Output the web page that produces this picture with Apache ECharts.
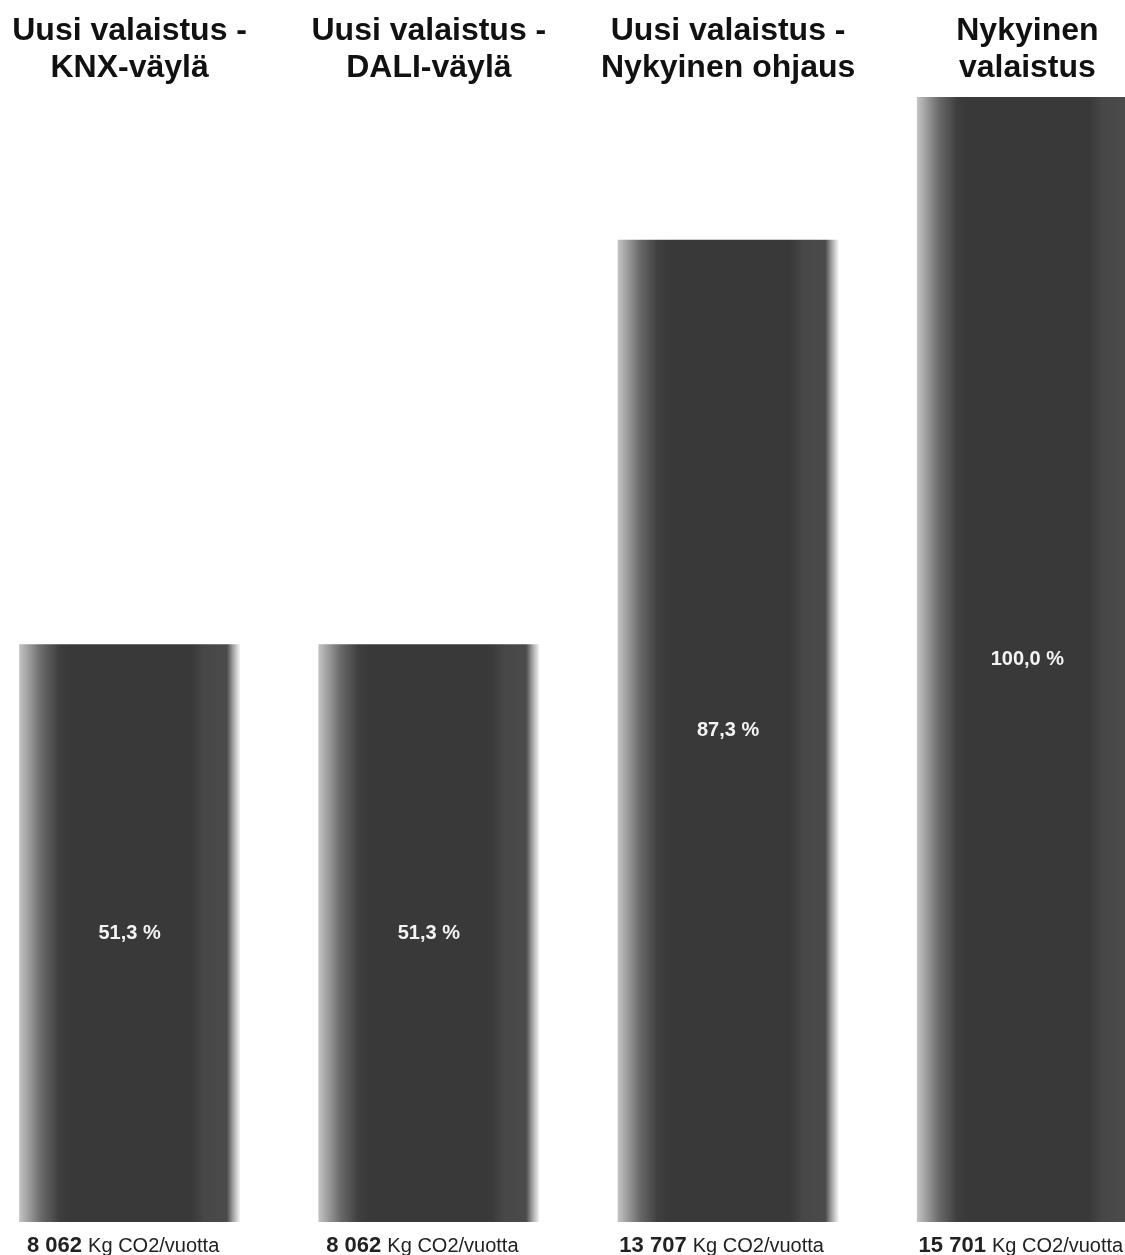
<!DOCTYPE html>
<html>
<head>
<meta charset="utf-8">
<script src="https://cdn.jsdelivr.net/npm/echarts@6/dist/echarts.min.js"></script>
<style>
html,body{margin:0;padding:0;background:#fff;}
#chart{width:1125px;height:1255px;}
</style>
</head>
<body>
<div id="chart"></div>
<script>
const categories = ['Uusi valaistus -\nKNX-väylä', 'Uusi valaistus -\nDALI-väylä', 'Uusi valaistus -\nNykyinen ohjaus', 'Nykyinen\nvalaistus'];
const values = [8062, 8062, 13707, 15701];
const percentLabels = ['51,3 %', '51,3 %', '87,3 %', '100,0 %'];
const valueLabels = ['8 062', '8 062', '13 707', '15 701'];
const unitLabel = 'Kg CO2/vuotta';

const font = '"Liberation Sans", Arial, sans-serif';
const barGradient = new echarts.graphic.LinearGradient(0, 0, 1, 0, [
  {offset: 0, color: '#c4c4c4'},
  {offset: 0.04, color: '#a0a0a0'},
  {offset: 0.10, color: '#6a6a6a'},
  {offset: 0.18, color: '#3f3f3f'},
  {offset: 0.23, color: '#393939'},
  {offset: 0.78, color: '#393939'},
  {offset: 0.84, color: '#474747'},
  {offset: 0.94, color: '#4b4b4b'},
  {offset: 0.97, color: '#a8a8a8'},
  {offset: 1, color: '#f6f6f6'}
]);

const chart = echarts.init(document.getElementById('chart'), null, {renderer: 'canvas'});
chart.setOption({
  backgroundColor: '#ffffff',
  animation: false,
  grid: {left: -20, right: -52, top: 97, bottom: 33, containLabel: false, outerBoundsMode: 'none'},
  xAxis: [{
    type: 'category',
    data: categories,
    position: 'bottom',
    axisLine: {show: false},
    axisTick: {show: false},
    axisLabel: {
      margin: 13,
      interval: 0,
      padding: [0, 13, 0, 0],
      formatter: function (v, i) {
        return '{b|' + valueLabels[i] + ' }{r|' + unitLabel + '}';
      },
      rich: {
        b: {fontFamily: font, fontWeight: 'bold', fontSize: 22, color: '#222'},
        r: {fontFamily: font, fontSize: 20, color: '#222'}
      }
    }
  }, {
    type: 'category',
    data: categories,
    position: 'top',
    axisLine: {show: false},
    axisTick: {show: false},
    axisLabel: {
      margin: 10,
      interval: 0,
      fontFamily: font,
      fontWeight: 'bold',
      fontSize: 32,
      lineHeight: 37,
      color: '#111'
    }
  }],
  yAxis: {
    type: 'value',
    min: 0,
    max: 15701,
    show: false,
    splitLine: {show: false}
  },
  series: [{
    type: 'bar',
    xAxisIndex: 0,
    data: values,
    barWidth: 221,
    itemStyle: {color: barGradient},
    label: {
      show: true,
      position: 'inside',
      formatter: function (p) { return percentLabels[p.dataIndex]; },
      fontFamily: font,
      fontWeight: 'bold',
      fontSize: 20,
      color: '#f4f4f4'
    }
  }]
});
</script>
</body>
</html>
